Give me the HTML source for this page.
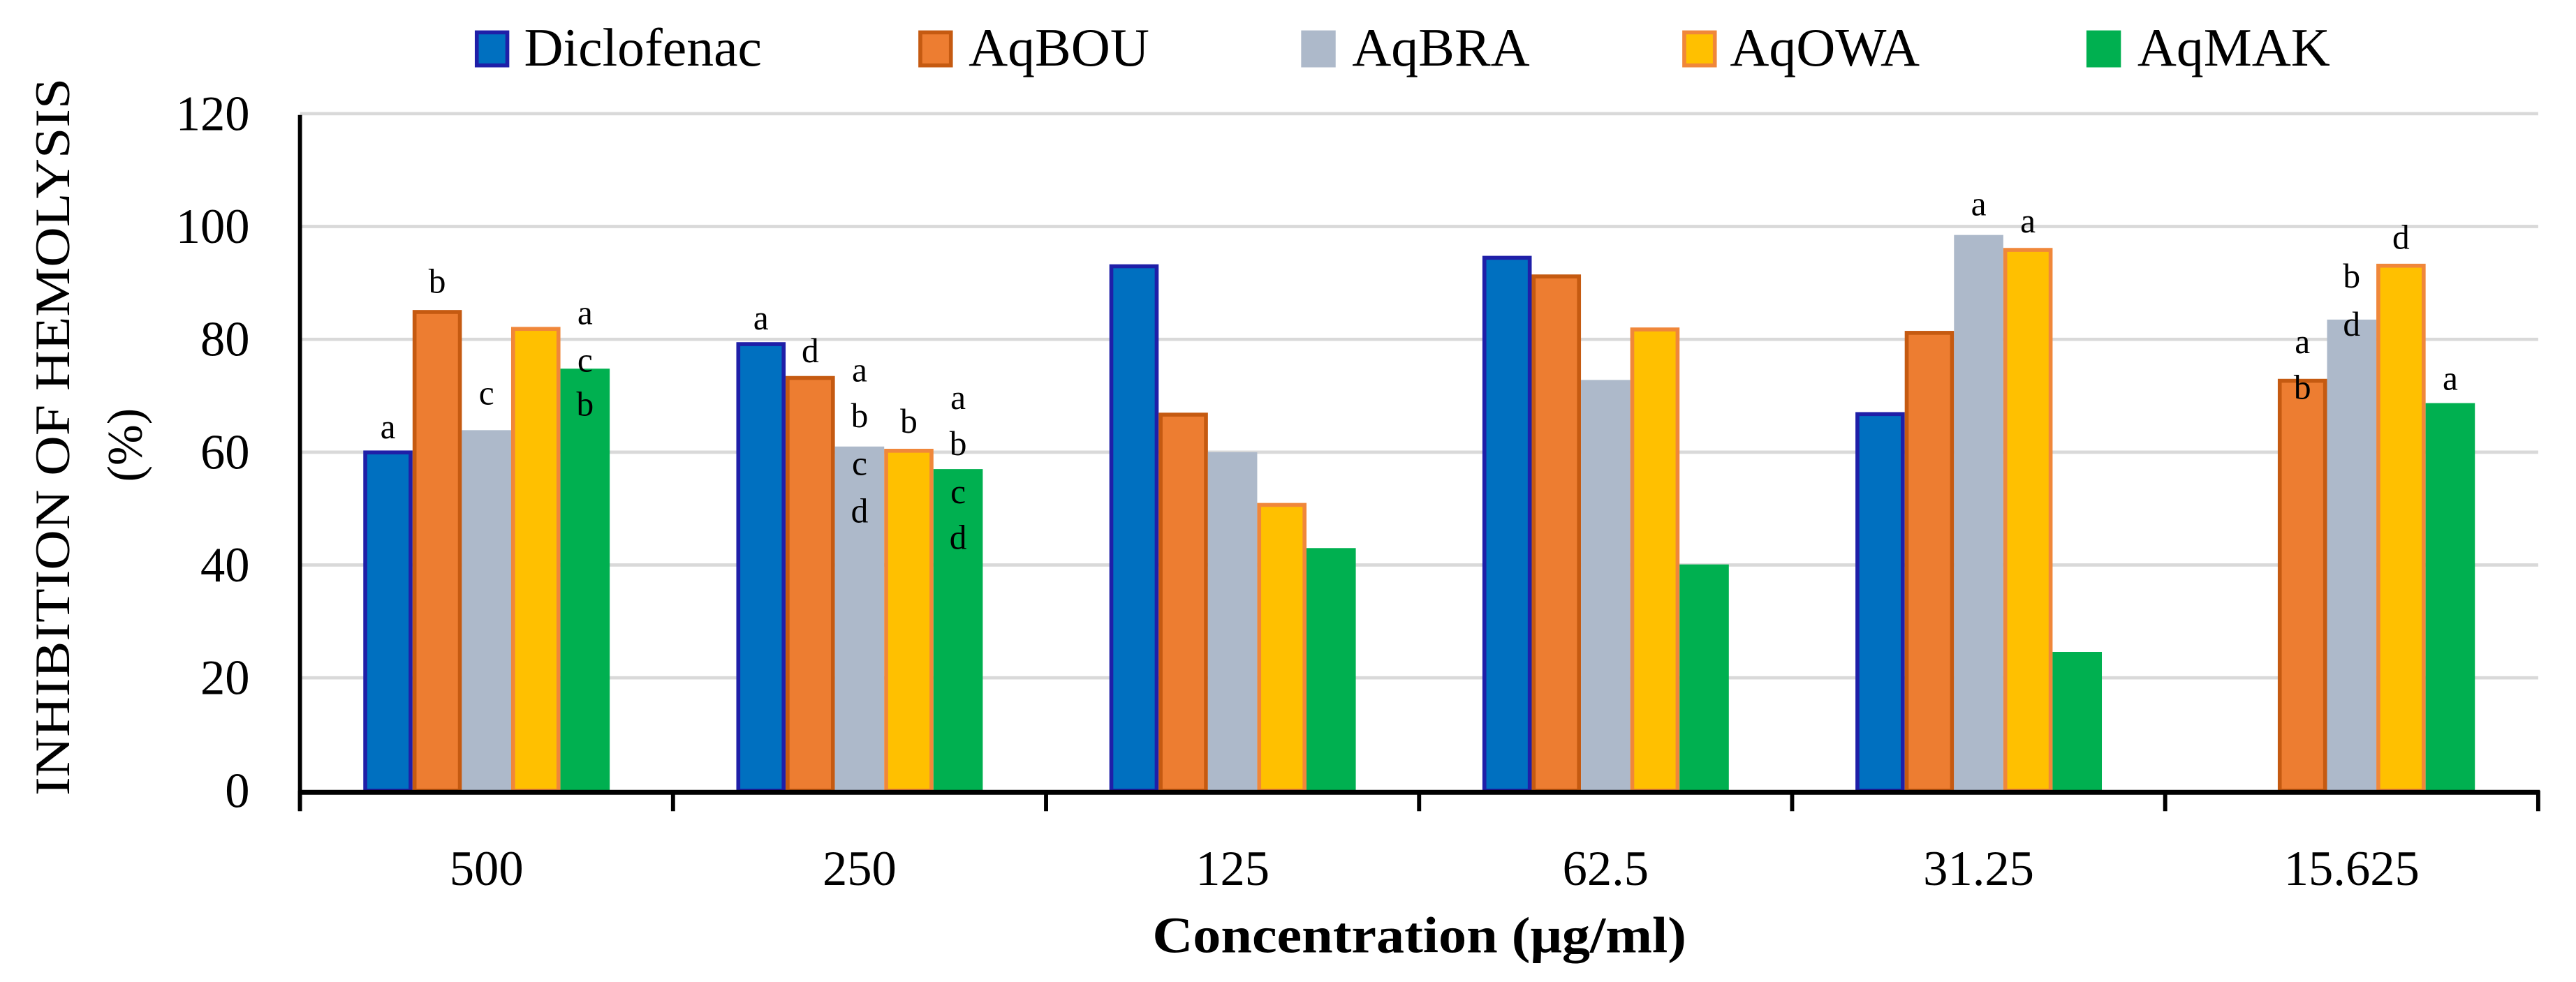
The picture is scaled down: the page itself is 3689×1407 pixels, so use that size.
<!DOCTYPE html>
<html><head><meta charset="utf-8"><style>
html,body{margin:0;padding:0;background:#fff;}
svg{display:block;}
text{font-family:"Liberation Serif",serif;fill:#000;}
</style></head><body>
<svg id="chart" width="3689" height="1407" viewBox="0 0 1568 598" xmlns="http://www.w3.org/2000/svg">
<g id="grid"></g>
<g id="bars"></g>
<g id="letters"></g>
<g id="axes"></g>
<g id="legend"></g>
<text x="864" y="580" text-anchor="middle" font-size="31" font-weight="bold" textLength="325" lengthAdjust="spacingAndGlyphs">Concentration (μg/ml)</text>
<text transform="translate(42,266) rotate(-90)" text-anchor="middle" font-size="30" textLength="437" lengthAdjust="spacingAndGlyphs">INHIBITION OF HEMOLYSIS</text>
<text transform="translate(86,271) rotate(-90)" text-anchor="middle" font-size="30">(%)</text>
</svg>
<script>
const categories = ["500","250","125","62.5","31.25","15.625"];
const seriesNames = ["Diclofenac","AqBOU","AqBRA","AqOWA","AqMAK"];
const diclofenac = [60.3, 79.5, 93.3, 94.8, 67.1, null];
const aqBOU = [85.2, 73.5, 67, 91.5, 81.5, 73];
const aqBRA = [63.9, 61, 60, 72.8, 98.5, 83.5];
const aqOWA = [82.2, 60.6, 51, 82.1, 96.2, 93.4];
const aqMAK = [74.8, 57, 43, 40.1, 24.6, 68.7];
const yTicks = [0,20,40,60,80,100,120];
// significance letters: [category index, series index, letter, y value]
const letterLabels = [
 [0,0,"a",64.5],[0,1,"b",90.3],[0,2,"c",70.5],[0,4,"a",84.7],[0,4,"c",76.3],[0,4,"b",68.5],
 [1,0,"a",83.8],[1,1,"d",78],[1,2,"a",74.6],[1,2,"b",66.5],[1,2,"c",58],[1,2,"d",49.6],[1,3,"b",65.5],
 [1,4,"a",69.7],[1,4,"b",61.5],[1,4,"c",53],[1,4,"d",44.9],
 [4,2,"a",104],[4,3,"a",101],
 [5,1,"a",79.6],[5,1,"b",71.5],[5,2,"b",91.2],[5,2,"d",82.7],[5,3,"d",98.1],[5,4,"a",73.1]
];
const series = [diclofenac, aqBOU, aqBRA, aqOWA, aqMAK];
const fills = ["#0070C0","#ED7D31","#ADB9CA","#FFC000","#00B050"];
const strokes = ["#1F1FA8","#C55A11",null,"#F0873A",null];
const NS = "http://www.w3.org/2000/svg";
const X0 = 182.6, X1 = 1545, Y0 = 481.5, Y120 = 69.2;
const catW = (X1 - X0) / categories.length;
const barW = 30;
function yScale(v){ return Y0 - (v/120)*(Y0 - Y120); }
function catCenter(i){ return X0 + catW*(i+0.5); }
function barX(c,s){ return catCenter(c) - barW*2.5 + s*barW; }
function mk(tag, attrs, parent){ const e=document.createElementNS(NS,tag); for(const k in attrs) e.setAttribute(k,attrs[k]); parent.appendChild(e); return e; }
const grid=document.getElementById('grid'), barsG=document.getElementById('bars'), lettersG=document.getElementById('letters'), axes=document.getElementById('axes'), legend=document.getElementById('legend');
yTicks.forEach(t=>{
  if(t>0){
    const l = mk('line',{x1:X0,x2:X1,y1:yScale(t),y2:yScale(t),stroke:"#D9D9D9","stroke-width":2},grid);
    
    
  }
  const tx = mk('text',{x:152,y:yScale(t)+10,"text-anchor":"end","font-size":30},axes);
  tx.textContent = t;
  
  
});
series.forEach((arr,s)=>{
  arr.forEach((v,c)=>{
    if(v===null || v===undefined) return;
    const x = barX(c,s), y = yScale(v);
    const attrs = {x:x, y:y, width:barW, height:Y0-y, fill:fills[s]};
    if(strokes[s]){ attrs.x = x+1.2; attrs.y = y+1.2; attrs.width = barW-2.4; attrs.height = Y0-y-1.2; attrs.stroke=strokes[s]; attrs["stroke-width"]=2.4; }
    const r = mk('rect',attrs,barsG);
    
    
  });
});
letterLabels.forEach(([c,s,l,v])=>{
  const t = mk('text',{x:barX(c,s)+barW/2,y:yScale(v),"text-anchor":"middle","dominant-baseline":"central","font-size":21},lettersG);
  t.textContent = l;
  
  
});
const ya = mk('line',{x1:X0,x2:X0,y1:70,y2:Y0+12,stroke:"#000","stroke-width":2.5},axes);


const xa = mk('line',{x1:X0-1,x2:X1+1,y1:Y0+1,y2:Y0+1,stroke:"#000","stroke-width":3},axes);


for(let i=0;i<=categories.length;i++){
  const tk = mk('line',{x1:X0+catW*i,x2:X0+catW*i,y1:Y0,y2:Y0+12.5,stroke:"#000","stroke-width":2.5},axes);
  
  
}
categories.forEach((c,i)=>{
  const t = mk('text',{x:catCenter(i),y:539,"text-anchor":"middle","font-size":30},axes);
  t.textContent = c;
  
  
});
const legBox = [289, 559, 792, 1024, 1270];
const legText = [319, 589.6, 823, 1053, 1301];
seriesNames.forEach((n,s)=>{
  const g = mk('g',{},legend);
  
  
  const a = {x:legBox[s],y:18.5,width:21,height:22.5,fill:fills[s]};
  if(strokes[s]){ a.x+=1.2; a.y+=1.2; a.width-=2.4; a.height-=2.4; a.stroke=strokes[s]; a["stroke-width"]=2.4; }
  const r = mk('rect',a,g);
  
  
  const t = mk('text',{x:legText[s],y:40,"font-size":33},g);
  t.textContent = n;
  
  
});
</script>
</body></html>
